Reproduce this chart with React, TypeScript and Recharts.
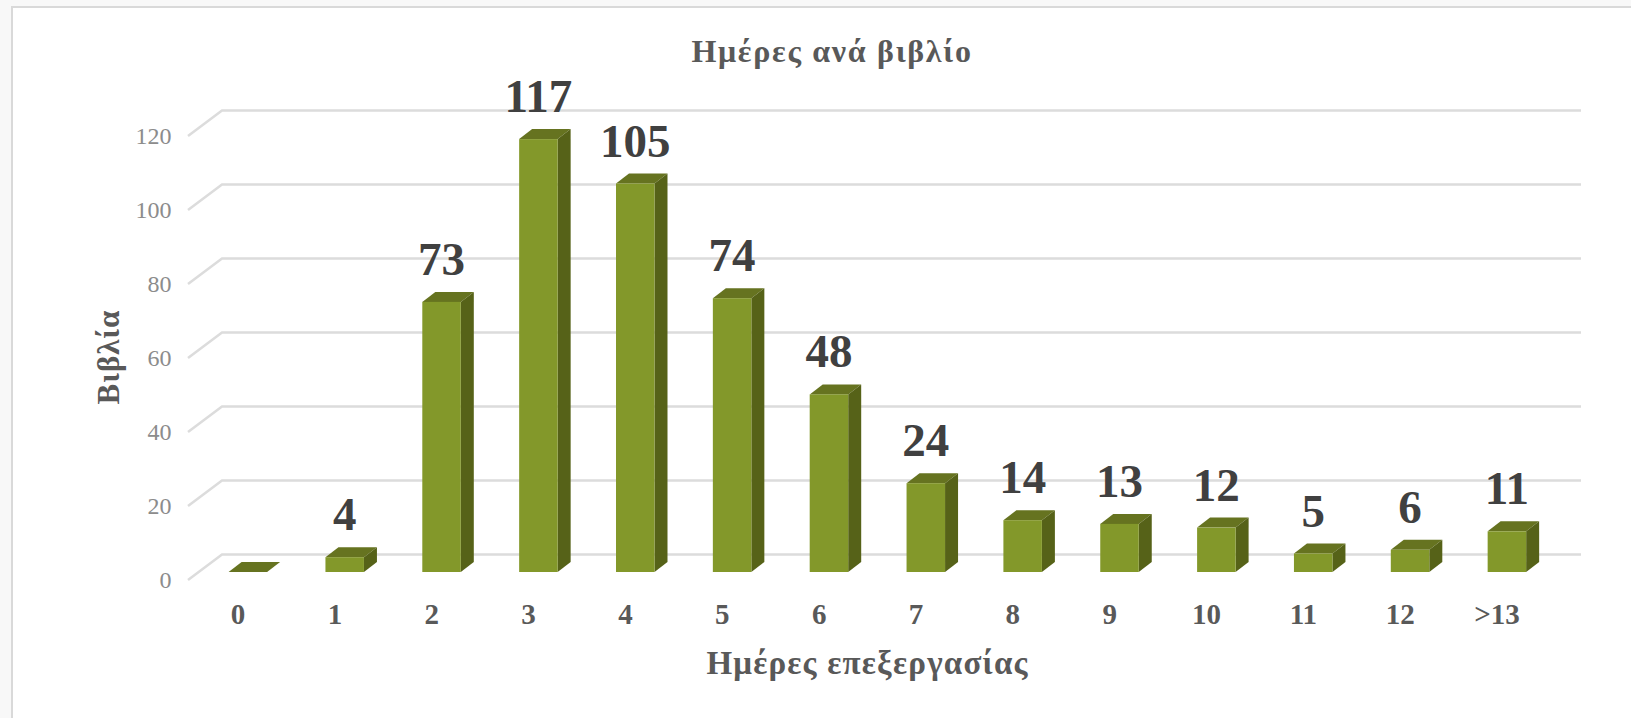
import React from 'react';
import { BarChart, Bar, XAxis, YAxis, CartesianGrid, LabelList, Label } from 'recharts';

const categories = ['0', '1', '2', '3', '4', '5', '6', '7', '8', '9', '10', '11', '12', '>13'];
const books = [0, 4, 73, 117, 105, 74, 48, 24, 14, 13, 12, 5, 6, 11];
const yTicks = [0, 20, 40, 60, 80, 100, 120];
const titleText = 'Ημέρες ανά βιβλίο';
const xTitle = 'Ημέρες επεξεργασίας';
const yTitle = 'Βιβλία';

const rows = categories.map((day, i) => ({ day, books: books[i] }));
const FONT = '"Liberation Serif", serif';

const DEPTH_X = 13;
const DEPTH_Y = 10;

const Bar3D = (props: any) => {
  const { x, y, width, height } = props;
  const b = y + height;
  const r = x + width;
  return (
    <g>
      <polygon points={`${x},${y} ${x + DEPTH_X},${y - DEPTH_Y} ${r + DEPTH_X},${y - DEPTH_Y} ${r},${y}`} fill="#667320" />
      <polygon points={`${r},${y} ${r + DEPTH_X},${y - DEPTH_Y} ${r + DEPTH_X},${b - DEPTH_Y} ${r},${b}`} fill="#566218" />
      <rect x={x} y={y} width={width} height={height} fill="#83982A" />
    </g>
  );
};

const GridLine = (props: any) => {
  const { x1, x2, y1 } = props;
  return (
    <polyline
      key={`g-${y1}`}
      points={`${x1 - 11.6},${y1 + 8} ${x1 + 22.4},${y1 - 17.5} ${x2 + 25.5},${y1 - 17.5}`}
      fill="none"
      stroke="#dcdcdc"
      strokeWidth={2.5}
    />
  );
};

const ValueLabel = (props: any) => {
  const { x, y, width, value } = props;
  if (!value) return null;
  return (
    <text x={x + width / 2} y={y - 27} textAnchor="middle" fontFamily={FONT} fontWeight={700} fontSize={47} fill="#404040">
      {value}
    </text>
  );
};

export default function App() {
  return (
    <div style={{ position: 'absolute', left: 0, top: 0, width: 1631, height: 718, background: '#f8f8f8', overflow: 'hidden' }}>
      <div style={{ position: 'absolute', left: 11, top: 6, width: 1620, height: 712, background: '#fff', borderLeft: '2px solid #d9d9d9', borderTop: '2px solid #d9d9d9', boxSizing: 'border-box' }} />
      <div style={{ position: 'absolute', left: 0, top: 33, width: 1664, textAlign: 'center', fontFamily: FONT, fontWeight: 700, fontSize: 32, color: '#595959', letterSpacing: 1.7 }}>
        {titleText}
      </div>
      <div style={{ position: 'absolute', left: 0, top: 0 }}>
        <BarChart width={1631} height={718} data={rows} margin={{ top: 128, right: 75.5, bottom: 86, left: 139.6 }} barCategoryGap={0}>
          <CartesianGrid vertical={false} horizontal={GridLine as any} />
          <XAxis
            dataKey="day"
            axisLine={false}
            tickLine={false}
            height={60}
            interval={0}
            tick={{ fontFamily: FONT, fontWeight: 700, fontSize: 29, fill: '#595959', dx: -10, dy: 23 }}
          >
            <Label value={xTitle} position="insideBottom" dx={-10} dy={47} style={{ fontFamily: FONT, fontWeight: 700, fontSize: 33, fill: '#595959', letterSpacing: 1.2 }} />
          </XAxis>
          <YAxis
            domain={[0, 120]}
            ticks={yTicks}
            axisLine={false}
            tickLine={false}
            width={60}
            tick={{ fontFamily: FONT, fontSize: 24, fill: '#8c8c8c', dx: -20, dy: 7 }}
          >
            <Label value={yTitle} angle={-90} position="insideLeft" dx={-37} dy={7} style={{ fontFamily: FONT, fontWeight: 700, fontSize: 31, fill: '#595959', textAnchor: 'middle', letterSpacing: 1 }} />
          </YAxis>
          <Bar dataKey="books" barSize={38.5} shape={Bar3D as any} isAnimationActive={false}>
            <LabelList dataKey="books" content={ValueLabel as any} />
          </Bar>
        </BarChart>
      </div>
    </div>
  );
}
